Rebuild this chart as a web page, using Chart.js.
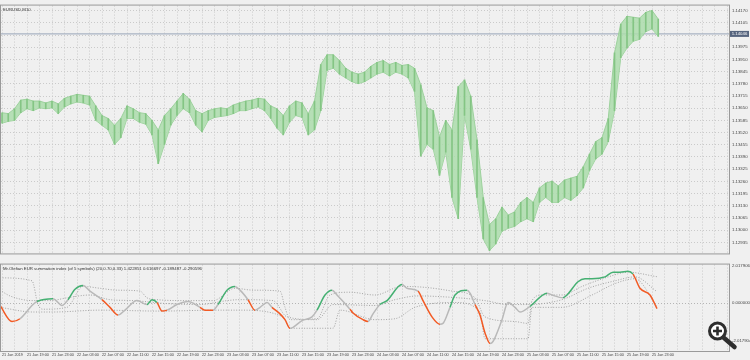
<!DOCTYPE html>
<html><head><meta charset="utf-8">
<script src="https://cdn.jsdelivr.net/npm/chart.js@4.4.1/dist/chart.umd.min.js"></script>
<style>
html,body{margin:0;padding:0;background:#f0f0f0;overflow:hidden}
#wrap{position:relative;width:750px;height:360px;background:#f0f0f0}
canvas{position:absolute;left:0}
#top{top:0;width:750px;height:259px}
#bot{top:259px;width:750px;height:101px}
</style></head><body>
<div id="wrap"><canvas id="top" width="750" height="259"></canvas><canvas id="bot" width="750" height="101"></canvas></div>
<script>
// ---------- data ----------
const symbolTitle = 'EURUSD,M10';
const indicatorTitle = 'Mr.Olefian EUR summation index (of 5 symbols) (20,0.70,0.33) 1.422851 0.616697 -0.189487 -0.290596';
const timeLabels = ['21 Jan 2019','21 Jan 19:00','21 Jan 23:00','22 Jan 03:00','22 Jan 07:00','22 Jan 11:00','22 Jan 15:00','22 Jan 19:00','22 Jan 23:00','23 Jan 03:00','23 Jan 07:00','23 Jan 11:00','23 Jan 15:00','23 Jan 19:00','23 Jan 23:00','24 Jan 03:00','24 Jan 07:00','24 Jan 11:00','24 Jan 15:00','24 Jan 19:00','24 Jan 23:00','25 Jan 03:00','25 Jan 07:00','25 Jan 11:00','25 Jan 15:00','25 Jan 19:00','25 Jan 23:00'];
const priceTicks = [1.14170,1.14105,1.14040,1.13975,1.13910,1.13845,1.13780,1.13715,1.13650,1.13585,1.13520,1.13455,1.13390,1.13325,1.13260,1.13195,1.13130,1.13065,1.13000,1.12935];
const indicatorTicks = [2.017906, 0, -2.017904];
const currentPrice = 1.14046;

// hourly bars (hours since the first label)
const barHours = Array.from({length:106},(_,i)=>i);
const barHighs = [1.13626,1.13621,1.13647,1.13693,1.13698,1.13688,1.13688,1.13678,1.13688,1.13673,
1.13703,1.13714,1.13724,1.13719,1.13714,1.13662,1.13611,1.13595,1.13559,1.13595,
1.13662,1.13647,1.13626,1.13621,1.13585,1.13534,1.13611,1.13647,1.13688,1.13729,
1.13698,1.13637,1.13621,1.13637,1.13647,1.13652,1.13647,1.13667,1.13678,1.13688,
1.13693,1.13703,1.13698,1.13662,1.13647,1.13611,1.13662,1.13688,1.13678,1.13621,
1.13688,1.13883,1.13935,1.13935,1.13904,1.13863,1.13842,1.13832,1.13842,1.13873,
1.13894,1.13904,1.13883,1.13894,1.13878,1.13883,1.13863,1.13775,1.13652,1.13637,
1.13498,1.13585,1.13534,1.13765,1.13801,1.13714,1.13482,1.13174,1.13030,1.13061,
1.13123,1.13081,1.13097,1.13148,1.13174,1.13148,1.13225,1.13251,1.13261,1.13236,
1.13267,1.13277,1.13287,1.13338,1.13405,1.13472,1.13493,1.13595,1.13945,1.14099,
1.14140,1.14135,1.14130,1.14161,1.14171,1.14125];
const barLows = [1.13570,1.13580,1.13585,1.13626,1.13647,1.13637,1.13652,1.13647,1.13652,1.13621,
1.13657,1.13673,1.13683,1.13678,1.13667,1.13585,1.13559,1.13534,1.13457,1.13493,
1.13595,1.13595,1.13575,1.13565,1.13508,1.13354,1.13457,1.13559,1.13611,1.13647,
1.13626,1.13559,1.13524,1.13585,1.13601,1.13606,1.13611,1.13621,1.13637,1.13637,
1.13647,1.13657,1.13637,1.13595,1.13544,1.13508,1.13575,1.13611,1.13601,1.13508,
1.13534,1.13637,1.13852,1.13863,1.13832,1.13811,1.13791,1.13781,1.13791,1.13811,
1.13832,1.13842,1.13822,1.13842,1.13832,1.13811,1.13739,1.13395,1.13457,1.13431,
1.13292,1.13416,1.13174,1.13061,1.13611,1.13431,1.13174,1.12953,1.12891,1.12927,
1.12994,1.13010,1.13020,1.13045,1.13061,1.13045,1.13148,1.13174,1.13148,1.13148,
1.13174,1.13159,1.13184,1.13225,1.13318,1.13380,1.13405,1.13472,1.13637,1.13919,
1.13971,1.14007,1.14017,1.14058,1.14073,1.14032];

// indicator main line: time (hours), value, trend state (1 up / -1 down / 0 neutral)
const mainHours = [-0.32,1.6,2.88,4.96,5.6,8.16,9.6,10.56,11.68,12.96,14.08,16.0,17.28,18.56,19.68,21.6,23.2,24.0,24.8,25.6,26.4,28.0,29.76,31.68,32.48,33.76,34.56,36.0,37.28,38.08,39.36,40.48,41.28,42.4,43.2,44.48,45.28,46.08,46.56,48.0,49.6,50.4,51.68,52.8,53.6,55.68,56.16,57.76,58.56,59.36,60.48,61.6,64.0,64.8,66.56,67.36,68.8,70.08,70.56,71.68,72.48,74.4,74.88,75.68,76.48,77.28,78.08,78.56,80.0,80.96,82.08,82.88,84.48,87.2,88.0,89.76,90.4,92.16,93.28,94.4,96.48,97.76,98.88,100.16,100.96,102.08,103.68,104.8];
const mainValues = [-0.12,-0.98,-0.83,-0.07,0.09,0.24,-0.12,0.19,0.75,0.95,0.65,0.19,-0.22,-0.63,-0.37,0.14,-0.07,0.19,0.04,-0.42,-0.37,-0.07,0.09,-0.22,-0.37,-0.37,-0.07,0.70,0.90,0.70,0.19,-0.37,-0.22,0.04,-0.22,-0.57,-0.88,-1.34,-1.29,-0.93,-0.73,-0.37,0.44,0.70,0.44,-0.32,-0.52,-0.88,-0.98,-0.57,-0.07,0.14,1.00,0.80,0.65,0.14,-0.73,-1.13,-1.08,-0.22,0.44,0.70,0.54,-0.07,-0.63,-1.59,-2.15,-2.05,-0.88,0.04,-0.22,-0.47,-0.17,0.54,0.44,0.29,0.44,1.15,1.31,1.31,1.41,1.66,1.66,1.71,1.56,0.80,0.44,-0.29];
const mainTrend = [-1,-1,0,0,1,0,0,1,1,0,0,-1,-1,0,0,0,1,1,-1,-1,0,0,0,-1,-1,0,1,1,0,0,-1,0,0,0,-1,-1,-1,0,0,0,0,1,1,0,0,-1,-1,-1,0,0,1,1,0,0,-1,-1,-1,0,0,1,1,0,0,-1,-1,-1,0,0,0,0,0,0,1,0,0,1,1,1,1,1,1,1,1,1,-1,-1,-1,-1];

// dotted indicator lines
const dot1Hours = [-0.32,4.8,5.76,6.56,10.4,12.96,15.68,18.4,22.08,23.2,24.8,29.6,33.76,37.28,40.16,44.48,45.28,46.08,50.4,52.48,55.68,59.68,64.0,67.68,72.0,75.68,77.28,82.08,84.16,84.8,86.4,89.6,92.8,97.0,100.16,104.8];
const dot1Values = [1.36,1.20,-0.07,-0.32,-0.22,0.90,0.80,0.70,0.65,0.29,0.19,0.14,0.14,0.80,0.70,0.65,-0.22,-0.88,-0.83,0.44,0.59,0.44,0.90,0.85,0.65,0.29,-0.73,-0.98,-1.08,0.14,0.44,0.44,0.90,1.41,1.66,1.42];
const dot2Hours = [-0.32,1.28,4.96,7.68,10.4,14.08,17.28,20.96,26.4,31.68,36.0,38.08,43.36,45.6,50.4,52.96,59.68,62.88,66.56,72.96,77.28,80.96,84.16,89.6,93.76,98.08,101.28,104.8];
const dot2Values = [0.70,0.39,0.14,0.14,0.29,0.44,0.19,0.14,-0.02,-0.07,0.14,0.19,0.14,-0.73,-0.88,-0.07,-0.12,0.19,0.39,0.29,0.14,-0.07,-0.07,0.19,0.80,1.20,1.41,0.62];
const dot3Hours = [-0.32,4.96,8.16,15.68,25.28,34.4,38.08,44.96,46.08,52.96,54.08,59.68,62.88,66.08,72.48,76.48,77.28,84.16,84.8,89.6,94.4,98.08,101.28,104.8];
const dot3Values = [-0.22,-0.47,-0.47,-0.37,-0.42,-0.37,-0.37,-0.73,-1.34,-1.34,-0.37,-0.88,-0.83,-0.22,0.04,-0.47,-1.90,-1.90,-0.22,-0.22,0.44,1.05,1.31,-0.19];

// ---------- styling / config ----------
const X_MIN = -0.16, X_MAX = 116.32;
const gridHours = Array.from({length:59},(_,i)=>i*2);
const FONT = {family:'Liberation Sans', size:4.3};
const TIME_FONT = {family:'Liberation Sans', size:3.8};
const trendColors = {'1':'#45b072','-1':'#f25a24','0':'#b9b9b9'};

function xAxis(showLabels){
  return {
    type:'linear', min:X_MIN, max:X_MAX, offset:false,
    afterBuildTicks: s => { s.ticks = gridHours.map(v=>({value:v})); },
    afterFit: s => { s.height = showLabels ? 9 : 0; },
    grid:{color:'#cacaca', lineWidth:1, drawTicks:false, offset:false},
    border:{display:false, dash:[1,2]},
    ticks:{display:showLabels, autoSkip:false, maxRotation:0, minRotation:0, align:'start', padding:2, font:TIME_FONT, color:'#444',
      callback:(v)=> (v % 4 === 0 && timeLabels[v/4]) ? timeLabels[v/4] : ''}
  };
}

const panelPlugin = {
  id:'panel',
  beforeDraw(chart){ const c=chart.ctx; c.save(); c.fillStyle='#f0f0f0'; c.fillRect(0,0,chart.width,chart.height); c.restore(); },
  afterDraw(chart, args, opts){
    const {ctx, chartArea:a} = chart;
    ctx.save();
    ctx.strokeStyle='#9a9a9a'; ctx.lineWidth=1;
    ctx.strokeRect(a.left-0.5, a.top-0.5, a.right-a.left+1, a.bottom-a.top+1);
    ctx.fillStyle='#333'; ctx.font='4.3px "Liberation Sans"'; ctx.textBaseline='top'; ctx.textAlign='left';
    ctx.fillText(opts.title, a.left+2, a.top+2);
    if (opts.tag) {
      const y = chart.scales.y.getPixelForValue(currentPrice);
      ctx.fillStyle='#56647e'; ctx.fillRect(a.right+1, y-3, 19, 6);
      ctx.fillStyle='#fff'; ctx.textBaseline='middle'; ctx.textAlign='center';
      ctx.fillText(currentPrice.toFixed(5), a.right+10.5, y);
    }
    if (opts.magnifier) {
      const cx=717.5, cy=72;
      ctx.fillStyle='#ffffff'; ctx.beginPath(); ctx.arc(cx,cy,8,0,Math.PI*2); ctx.fill();
      ctx.strokeStyle='#2e2e2e'; ctx.lineWidth=3; ctx.beginPath(); ctx.arc(cx,cy,8,0,Math.PI*2); ctx.stroke();
      ctx.lineCap='round'; ctx.lineWidth=4.5; ctx.beginPath(); ctx.moveTo(cx+6,cy+6.5); ctx.lineTo(cx+17,cy+16); ctx.stroke();
      ctx.lineCap='butt'; ctx.lineWidth=2.6; ctx.beginPath(); ctx.moveTo(cx-4.5,cy); ctx.lineTo(cx+4.5,cy); ctx.moveTo(cx,cy-4.5); ctx.lineTo(cx,cy+4.5); ctx.stroke();
    }
    ctx.restore();
  }
};

new Chart(document.getElementById('top'), {
  type:'bar',
  data:{datasets:[
    // high/low envelope of the bars (light green band)
    {type:'line', order:2, data: barHours.map((h,i)=>({x:h, y:barHighs[i]})), borderColor:'#9dd29d', borderWidth:1,
     pointRadius:0, tension:0, fill:'+1', backgroundColor:'rgba(172,220,172,0.85)'},
    {type:'line', order:2, data: barHours.map((h,i)=>({x:h, y:barLows[i]})), borderColor:'#9dd29d', borderWidth:1,
     pointRadius:0, tension:0, fill:false},
    // the hourly high-low bars as thin strokes
    {type:'bar', order:0, data: barHours.map((h,i)=>({x:h, y:[barLows[i], barHighs[i]]})),
     backgroundColor:'#84c584', borderWidth:0, barThickness:1, grouped:false},
    {type:'line', order:3, data:[{x:X_MIN,y:currentPrice},{x:X_MAX,y:currentPrice}],
     borderColor:'#a9b3c3', borderWidth:1.3, pointRadius:0}
  ]},
  options:{
    responsive:false, animation:false, maintainAspectRatio:false,
    layout:{padding:{left:1, top:1, right:0, bottom:1}, autoPadding:false},
    plugins:{legend:{display:false}, tooltip:{enabled:false}, panel:{title:symbolTitle, tag:true}},
    scales:{
      x: xAxis(false),
      y:{position:'right', min:1.12876, max:1.14197,
        afterBuildTicks: s => { s.ticks = priceTicks.map(v=>({value:v})); },
        afterFit: s => { s.width = 21; },
        grid:{color:'#cacaca', drawTicks:false},
        border:{display:false, dash:[1,2]},
        ticks:{padding:3, font:FONT, color:'#444', callback:v=>Number(v).toFixed(5)}}
    }
  },
  plugins:[panelPlugin]
});

const dotStyle = {borderColor:'#a3a3a3', borderWidth:1, borderDash:[1,1.6], pointRadius:0, cubicInterpolationMode:'monotone', order:1};
new Chart(document.getElementById('bot'), {
  type:'line',
  data:{datasets:[
    {order:0, data: mainHours.map((h,i)=>({x:h,y:mainValues[i]})), borderColor:'#b9b9b9', borderWidth:1.5, pointRadius:0,
     cubicInterpolationMode:'monotone', segment:{borderColor: c => trendColors[String(mainTrend[c.p0DataIndex])]}},
    Object.assign({data: dot1Hours.map((h,i)=>({x:h,y:dot1Values[i]}))}, dotStyle),
    Object.assign({data: dot2Hours.map((h,i)=>({x:h,y:dot2Values[i]}))}, dotStyle),
    Object.assign({data: dot3Hours.map((h,i)=>({x:h,y:dot3Values[i]}))}, dotStyle)
  ]},
  options:{
    responsive:false, animation:false, maintainAspectRatio:false,
    layout:{padding:{left:1, top:1, right:0, bottom:0}, autoPadding:false},
    plugins:{legend:{display:false}, tooltip:{enabled:false}, panel:{title:indicatorTitle, magnifier:true}},
    scales:{
      x: xAxis(true),
      y:{position:'right', min:-2.557, max:2.069,
        afterBuildTicks: s => { s.ticks = indicatorTicks.map(v=>({value:v})); },
        afterFit: s => { s.width = 21; },
        grid:{drawTicks:false, color: c => (c.tick && c.tick.value === 0) ? '#b5b5b5' : 'rgba(0,0,0,0)'},
        border:{display:false, dash:[1,2]},
        ticks:{padding:3, font:FONT, color:'#444', callback:v=>Number(v).toFixed(6)}}
    }
  },
  plugins:[panelPlugin]
});
</script>
</body></html>
